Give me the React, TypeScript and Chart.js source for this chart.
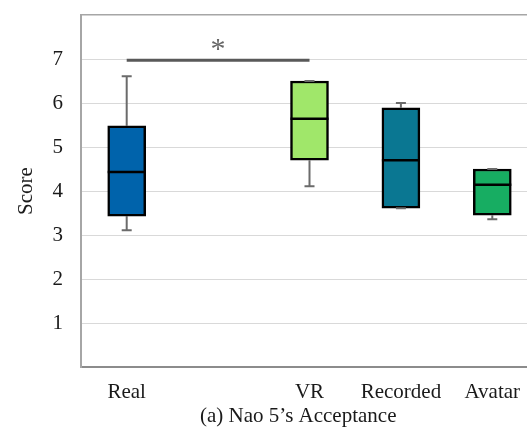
import React, { useEffect, useRef } from "react";
import { Chart, registerables } from "chart.js";

Chart.register(...registerables);

const categories = ["Real", "", "VR", "Recorded", "Avatar"];
const mins = [3.11, null, 4.11, 3.61, 3.36];
const q1s = [3.43, null, 4.7, 3.61, 3.45];
const medians = [4.43, null, 5.64, 4.7, 4.14];
const q3s = [5.48, null, 6.5, 5.89, 4.5];
const maxs = [6.61, null, 6.5, 6.0, 4.5];
const boxColors = ["#0063AB", "rgba(0,0,0,0)", "#A0E76A", "#0A7792", "#17AD62"];
const yTicks = [1, 2, 3, 4, 5, 6, 7];
const sigFrom = 0;
const sigTo = 2;
const sigValue = 6.97;
const sigLabel = "*";
const caption = "(a) Nao 5\u2019s Acceptance";
const yTitle = "Score";

const FONT = "'Liberation Serif', 'Times New Roman', serif";

const boxPlugin = {
  id: "boxExtras",
  afterDatasetsDraw(chart: any) {
    const ctx = chart.ctx;
    const xs = chart.scales.x;
    const ys = chart.scales.y;
    const meta = chart.getDatasetMeta(0);
    ctx.save();
    categories.forEach((_, i) => {
      if (medians[i] == null) return;
      const bar = meta.data[i];
      const x = xs.getPixelForValue(i);
      const half = bar.width / 2;
      const capHalf = 5;
      ctx.strokeStyle = "#6b6b6b";
      ctx.lineWidth = 2;
      ctx.beginPath();
      ctx.moveTo(x, ys.getPixelForValue(q3s[i] as number));
      ctx.lineTo(x, ys.getPixelForValue(maxs[i] as number));
      ctx.moveTo(x, ys.getPixelForValue(q1s[i] as number));
      ctx.lineTo(x, ys.getPixelForValue(mins[i] as number));
      ctx.stroke();
      ctx.beginPath();
      const yMax = ys.getPixelForValue(maxs[i] as number);
      const yMin = ys.getPixelForValue(mins[i] as number);
      ctx.moveTo(x - capHalf, yMax);
      ctx.lineTo(x + capHalf, yMax);
      ctx.moveTo(x - capHalf, yMin);
      ctx.lineTo(x + capHalf, yMin);
      ctx.stroke();
      ctx.strokeStyle = "#000";
      ctx.lineWidth = 2.5;
      ctx.beginPath();
      const ym = ys.getPixelForValue(medians[i] as number);
      ctx.moveTo(x - half, ym);
      ctx.lineTo(x + half, ym);
      ctx.stroke();
    });
    // significance bar
    const ySig = ys.getPixelForValue(sigValue);
    ctx.strokeStyle = "#595959";
    ctx.lineWidth = 3;
    ctx.beginPath();
    ctx.moveTo(xs.getPixelForValue(sigFrom), ySig);
    ctx.lineTo(xs.getPixelForValue(sigTo), ySig);
    ctx.stroke();
    ctx.fillStyle = "#666";
    ctx.font = "30px " + FONT;
    ctx.textAlign = "center";
    ctx.textBaseline = "alphabetic";
    ctx.fillText(sigLabel, xs.getPixelForValue((sigFrom + sigTo) / 2), ySig - 2);
    // caption
    ctx.fillStyle = "#1a1a1a";
    ctx.font = "21px " + FONT;
    ctx.textAlign = "left";
    ctx.fillText(caption, 200, 422);
    ctx.restore();
  },
};

export default function App() {
  const ref = useRef<HTMLCanvasElement>(null);
  useEffect(() => {
    if (!ref.current) return;
    const chart = new Chart(ref.current, {
      type: "bar",
      data: {
        labels: categories,
        datasets: [
          {
            data: categories.map((_, i) =>
              q1s[i] == null ? null : [q1s[i] as number, q3s[i] as number]
            ) as any,
            backgroundColor: boxColors,
            borderColor: "#000",
            borderWidth: 2.5,
            borderSkipped: false,
            barThickness: 38,
          },
        ],
      },
      options: {
        responsive: false,
        animation: false,
        layout: { padding: { top: 15, left: 0, right: 10, bottom: 0 } },
        plugins: { legend: { display: false }, tooltip: { enabled: false } },
        scales: {
          x: {
            grid: { display: false },
            border: { display: true, color: "#8c8c8c", width: 2 },
            ticks: {
              color: "#1a1a1a",
              font: { family: FONT, size: 21 },
              padding: 5,
              maxRotation: 0,
              autoSkip: false,
            },
            afterFit: (s: any) => {
              s.height = 60;
              s.paddingLeft = 0;
              s.paddingRight = 0;
            },
          },
          y: {
            min: 0,
            max: 8,
            grid: {
              drawTicks: false,
              color: (c: any) =>
                c.tick && c.tick.value === 8
                  ? "#a6a6a6"
                  : c.tick && c.tick.value === 0
                  ? "rgba(0,0,0,0)"
                  : "#d9d9d9",
              lineWidth: (c: any) => (c.tick && c.tick.value === 8 ? 1.5 : 1),
            },
            border: { display: true, color: "#a6a6a6", width: 2 },
            ticks: {
              stepSize: 1,
              padding: 18,
              color: "#1a1a1a",
              font: { family: FONT, size: 21 },
              callback: (v: any) => (yTicks.includes(Number(v)) ? String(v) : ""),
            },
            title: {
              display: true,
              text: yTitle,
              color: "#1a1a1a",
              font: { family: FONT, size: 21 },
              padding: { top: 14, bottom: 0 },
            },
            afterFit: (s: any) => {
              s.width = 81;
              s.paddingTop = 0;
              s.paddingBottom = 0;
            },
          },
        },
      },
      plugins: [boxPlugin],
    });
    return () => chart.destroy();
  }, []);
  return (
    <div
      style={{
        position: "absolute",
        left: 0,
        top: 0,
        width: 527,
        height: 427,
        overflow: "hidden",
        background: "#fff",
      }}
    >
      <canvas ref={ref} width={548} height={427} style={{ width: 548, height: 427, display: "block" }} />
    </div>
  );
}
